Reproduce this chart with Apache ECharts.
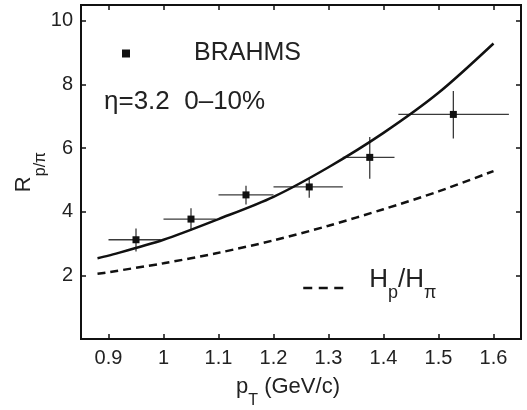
<!DOCTYPE html>
<html>
<head>
<meta charset="utf-8">
<script src="https://cdn.jsdelivr.net/npm/echarts@6/dist/echarts.min.js"></script>
<style>
html, body { margin: 0; padding: 0; background: #fff; }
#main { width: 527px; height: 410px; }
</style>
</head>
<body>
<div id="main"></div>
<script>
// BRAHMS points
var ptX = [0.95, 1.05, 1.15, 1.265, 1.375, 1.527];
var ptY = [3.12, 3.77, 4.53, 4.78, 5.71, 7.06];
var ptXLo = [0.9, 1.0, 1.1, 1.2, 1.326, 1.427];
var ptXHi = [0.995, 1.095, 1.2, 1.326, 1.42, 1.628];
var ptYLo = [2.75, 3.41, 4.23, 4.44, 5.04, 6.30];
var ptYHi = [3.47, 4.11, 4.82, 5.05, 6.35, 7.80];

// curves
var curveX = [0.88, 0.9, 1.0, 1.1, 1.2, 1.3, 1.4, 1.5, 1.6];
var solidY = [2.54, 2.62, 3.12, 3.77, 4.47, 5.40, 6.48, 7.74, 9.29];
var dashY  = [2.05, 2.10, 2.38, 2.71, 3.10, 3.56, 4.08, 4.64, 5.28];

var xTicks = [0.9, 1.0, 1.1, 1.2, 1.3, 1.4, 1.5, 1.6];
var yTicks = [2, 4, 6, 8, 10];

var chartDom = document.getElementById('main');
var myChart = echarts.init(chartDom);
var FONT = '"Liberation Sans", Arial, Helvetica, sans-serif';
var INK = '#111';

var pts = [], bars = [], solid = [], dashed = [];
for (var i = 0; i < ptX.length; i++) {
    pts.push([ptX[i], ptY[i]]);
    bars.push([ptX[i], ptY[i], ptXLo[i], ptXHi[i], ptYLo[i], ptYHi[i]]);
}
for (var j = 0; j < curveX.length; j++) {
    solid.push([curveX[j], solidY[j]]);
    dashed.push([curveX[j], dashY[j]]);
}

function axisX(pos, labels) {
    return {
        type: 'value', position: pos, min: 0.85, max: 1.65,
        axisLine: { show: true, onZero: false, lineStyle: { color: INK, width: 2 } },
        axisTick: { show: true, inside: true, length: 5, customValues: xTicks, lineStyle: { color: INK, width: 1.5 } },
        axisLabel: { show: labels, customValues: xTicks, fontSize: 20, fontFamily: FONT, color: '#222', margin: 9 },
        splitLine: { show: false }
    };
}
function axisY(pos, labels) {
    return {
        type: 'value', position: pos, min: 0, max: 10.5,
        axisLine: { show: true, onZero: false, lineStyle: { color: INK, width: 2 } },
        axisTick: { show: true, inside: true, length: 5, customValues: yTicks, lineStyle: { color: INK, width: 1.5 } },
        axisLabel: { show: labels, customValues: yTicks, fontSize: 20, fontFamily: FONT, color: '#222', margin: 8 },
        splitLine: { show: false }
    };
}

var xa = axisX('bottom', true);
xa.name = '{a|p}{s|T}{a| (GeV/c)}';
xa.nameLocation = 'middle';
xa.nameGap = 37;
xa.nameTextStyle = {
    padding: [0, 26, 0, 0],
    rich: {
        a: { fontSize: 22, fontFamily: FONT, color: '#222', lineHeight: 22, verticalAlign: 'top' },
        s: { fontSize: 16, fontFamily: FONT, color: '#222', lineHeight: 16, verticalAlign: 'top', padding: [17, 0, 0, 0] }
    }
};
var ya = axisY('left', true);
ya.name = '{a|R}{s|p/π}';
ya.nameLocation = 'middle';
ya.nameRotate = 90;
ya.nameGap = 46;
ya.nameMoveOverlap = false;
ya.nameTextStyle = {
    rich: {
        a: { fontSize: 22, fontFamily: FONT, color: '#222', lineHeight: 22, verticalAlign: 'top' },
        s: { fontSize: 16, fontFamily: FONT, color: '#222', lineHeight: 16, verticalAlign: 'top', padding: [20, 0, 0, 0] }
    }
};

var option = {
    animation: false,
    backgroundColor: '#fff',
    grid: {
        left: 81, right: 6, top: 5, bottom: 71, containLabel: false, outerBoundsMode: 'none',
        show: true, borderColor: INK, borderWidth: 2, backgroundColor: 'transparent'
    },
    xAxis: [xa, axisX('top', false)],
    yAxis: [ya, axisY('right', false)],
    legend: [
        {
            data: ['BRAHMS'], left: 122, top: 41, padding: 0, selectedMode: false,
            icon: 'rect', itemWidth: 8, itemHeight: 8,
            itemStyle: { color: INK },
            textStyle: { fontSize: 25, fontFamily: FONT, color: '#222', padding: [0, 0, 0, 59] }
        },
        {
            data: ['Hp/Hpi'], left: 302, top: 267, padding: 0, selectedMode: false,
            itemWidth: 40, itemHeight: 14,
            itemStyle: { opacity: 0 },
            lineStyle: { type: [9, 6.5], width: 2.5, color: INK },
            formatter: function () { return '{a|H}{s|p}{a|/H}{s|π}'; },
            textStyle: {
                padding: [0, 0, 16, 21],
                rich: {
                    a: { fontSize: 26, fontFamily: FONT, color: '#222', lineHeight: 26, verticalAlign: 'top' },
                    s: { fontSize: 18, fontFamily: FONT, color: '#222', lineHeight: 18, verticalAlign: 'top', padding: [17, 0, 0, 0] }
                }
            }
        }
    ],
    graphic: [
        {
            type: 'text', left: 104, top: 89,
            style: { text: 'η=3.2  0–10%', font: '26px ' + FONT, fill: '#222' }
        }
    ],
    series: [
        {
            name: 'err',
            type: 'custom',
            data: bars,
            encode: { x: 0, y: 1 },
            z: 1,
            renderItem: function (params, api) {
                var l = api.coord([api.value(2), api.value(1)]);
                var r = api.coord([api.value(3), api.value(1)]);
                var b = api.coord([api.value(0), api.value(4)]);
                var t = api.coord([api.value(0), api.value(5)]);
                var st = { stroke: '#3a3a3a', lineWidth: 1.3 };
                return {
                    type: 'group',
                    children: [
                        { type: 'line', shape: { x1: l[0], y1: l[1], x2: r[0], y2: r[1] }, style: st },
                        { type: 'line', shape: { x1: b[0], y1: b[1], x2: t[0], y2: t[1] }, style: st }
                    ]
                };
            }
        },
        {
            name: 'model',
            type: 'line',
            data: solid,
            smooth: 0.3,
            symbol: 'none',
            z: 2,
            lineStyle: { color: INK, width: 2.5 }
        },
        {
            name: 'Hp/Hpi',
            type: 'line',
            data: dashed,
            smooth: 0.3,
            symbol: 'none',
            z: 2,
            itemStyle: { color: INK },
            lineStyle: { color: INK, width: 2.5, type: [8, 5] }
        },
        {
            name: 'BRAHMS',
            type: 'scatter',
            data: pts,
            symbol: 'rect',
            symbolSize: 7,
            z: 3,
            itemStyle: { color: INK, opacity: 1 }
        }
    ]
};

option && myChart.setOption(option);
</script>
</body>
</html>
